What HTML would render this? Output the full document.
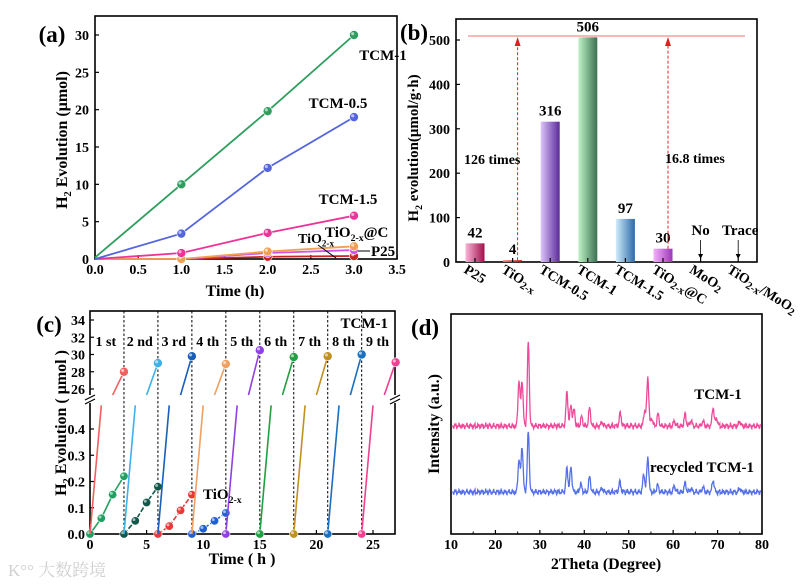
<!DOCTYPE html>
<html><head><meta charset="utf-8">
<style>
html,body{margin:0;padding:0;background:#fff;}
svg{display:block;font-family:"Liberation Serif","Noto Serif CJK SC",serif;font-weight:bold;}
</style></head>
<body>
<svg id="fig" width="807" height="585" viewBox="0 0 807 585"></svg>
<script>
// ---------- Panel (a) data ----------
const aTimes=[0,1,2,3];
const aNames=["TCM-1","TCM-0.5","TCM-1.5","TiO2-x@C","P25","TiO2-x"];
const aTCM1=[0.2,10,19.8,30];
const aTCM05=[0,3.4,12.2,19];
const aTCM15=[0,0.8,3.5,5.8];
const aTiC=[0,0,1.0,1.7];
const aP25=[0,0,0.8,1.2];
const aTiO=[0,0,0.3,0.4];
const aXTicks=["0.0","0.5","1.0","1.5","2.0","2.5","3.0","3.5"];
const aYTicks=[0,5,10,15,20,25,30];
// ---------- Panel (b) data ----------
const bCats=["P25","TiO2-x","TCM-0.5","TCM-1","TCM-1.5","TiO2-x@C","MoO2","TiO2-x/MoO2"];
const bVals=[42,4,316,506,97,30,0,0];
const bLabels=["42","4","316","506","97","30","No","Trace"];
const bYTicks=[0,100,200,300,400,500];
// ---------- Panel (c) data ----------
const cFinal=[28,29,29.8,28.9,30.5,29.7,29.8,30,29.1];
const cCycleLabels=["1 st","2 nd","3 rd","4 th","5 th","6 th","7 th","8 th","9 th"];
const cTiO1=[0,0.06,0.15,0.22];
const cTiO2=[0,0.05,0.12,0.18];
const cTiO3=[0,0.03,0.09,0.15];
const cTiO4=[0,0.02,0.05,0.08];
const cLowTicks=["0.0","0.1","0.2","0.3","0.4"];
const cUpTicks=[26,28,30,32,34];
const cXTicks=[0,5,10,15,20,25];
// ---------- Panel (d) data ----------
const dPinkPos=[25.3,26.0,27.4,36.1,37.0,37.7,39.4,41.2,44.0,48.1,53.6,54.3,55.2,56.6,60.3,62.7,64.0,66.7,69.0,69.8,75.0];
const dPinkH=[46,46,84,34,21,16,9,18,4,13,16,49,8,12,5,12,6,5,19,8,5];
const dBluePos=[25.3,26.0,27.4,36.1,37.0,39.2,41.2,44.0,48.0,53.4,54.3,56.5,60.3,62.7,64.0,66.7,69.0,75.0];
const dBlueH=[33,46,60,24,25,8,15,4,10,18,35,7,6,9,4,5,12,4];
const dXTicks=[10,20,30,40,50,60,70,80];

const NS="http://www.w3.org/2000/svg";
const svg=document.getElementById('fig');
function el(tag,attrs,parent,txt){const e=document.createElementNS(NS,tag);for(const k in attrs)e.setAttribute(k,attrs[k]);if(txt!==undefined)e.textContent=txt;(parent||svg).appendChild(e);return e;}
function grp(name){const g=el('g',{});return g;}
function txt(g,x,y,s,size,anchor,name,extra){const t=el('text',Object.assign({x:x,y:y,'font-size':size,'text-anchor':anchor||'middle',fill:'#000'},extra||{}),g,s);return t;}
function subText(g,x,y,base,sub,size,anchor,name,rot,post){
  const t=el('text',{x:x,y:y,'font-size':size,'text-anchor':anchor||'start',fill:'#000'},g);
  if(rot)t.setAttribute('transform',rot);
  
  el('tspan',{},t,base);el('tspan',{'font-size':size*0.65,dy:size*0.25},t,sub);
  if(post){el('tspan',{dy:-size*0.25},t,post);}
  return t;}
function ball(g,x,y,c,r,name){
  const b=el('circle',{cx:x,cy:y,r:r||4.5,fill:c,stroke:'#fff','stroke-width':0.6},g);
  
  el('circle',{cx:x-1.3,cy:y-1.3,r:(r||4.5)*0.35,fill:'#fff',opacity:0.6},g);
  return b;}

// ======== Panel (a) ========
(function(){
 const g=grp('panel-a');
 const L=95,R=397,T=16,B=259;
 const X=v=>L+v*(354-L)/3, Y=v=>B-v*(B-35)/30;
 el('rect',{x:L,y:T,width:R-L,height:B-T,fill:'none',stroke:'#000','stroke-width':1.6},g);
 aXTicks.forEach((s,i)=>{const x=X(i*0.5);el('line',{x1:x,x2:x,y1:B,y2:B-4,stroke:'#000','stroke-width':1.2},g);txt(g,x,B+15,s,14,'middle','x-tick-a');});
 aYTicks.forEach(v=>{const y=Y(v);el('line',{x1:L,x2:L+4,y1:y,y2:y,stroke:'#000','stroke-width':1.2},g);txt(g,L-6,y+5,String(v),14,'end','y-tick-a');});
 txt(g,235,296,'Time (h)',16,'middle','x-axis-title-a');
 subText(g,0,0,'H','2',16,'middle','y-axis-title-a','translate(67,140) rotate(-90)',' Evolution (μmol)');
 txt(g,52,42,'(a)',23,'middle','panel-label-a');
 const series=[[aTCM1,'#2e9e5e'],[aTCM05,'#5566dd'],[aTCM15,'#ee3399'],[aTiC,'#f0a050'],[aP25,'#cc55ee'],[aTiO,'#cc2222']];
 series.slice().reverse().forEach(([d,c],k)=>{
   const name=aNames[series.length-1-k];
   const nm=name.toLowerCase().replace(/[^a-z0-9]+/g,'-');
   const p=el('polyline',{points:d.map((v,i)=>X(aTimes[i])+','+Y(v)).join(' '),fill:'none',stroke:c,'stroke-width':1.8},g);
   
   d.forEach((v,i)=>{if(i>0)ball(g,X(aTimes[i]),Y(v),c,4.5,'point-'+nm);});
 });
 txt(g,383,60,'TCM-1',15,'middle','label-tcm1');
 txt(g,338,108,'TCM-0.5',15,'middle','label-tcm05');
 txt(g,348,204,'TCM-1.5',15,'middle','label-tcm15');
 subText(g,325,237,'TiO','2-x',15,'start','label-tio2x-c',null,'@C');
 subText(g,298,243,'TiO','2-x',14,'start','label-tio2x');
 el('line',{x1:318,y1:245,x2:336,y2:258,stroke:'#000','stroke-width':1},g);
 el('line',{x1:358,y1:251,x2:370,y2:251,stroke:'#000','stroke-width':1},g);
 txt(g,371,256,'P25',15,'start','label-p25');
})();

// ======== Panel (b) ========
(function(){
 const g=grp('panel-b');
 const L=456,R=757,T=19,B=262;
 const Y=v=>B-v*(B-40)/500, X=i=>475+i*37.6;
 const grads=[['#f9b4d8','#a0104a'],['#f08080','#b01010'],['#dcc4fa','#5a2a9a'],['#c0f4c8','#3a7050'],['#d0ecfb','#2a6aa8'],['#f4b0fa','#9a38b8']];
 const defs=el('defs',{},g);
 grads.forEach((c,i)=>{const lg=el('linearGradient',{id:'bg'+i,x1:0,x2:1,y1:0,y2:0},defs);el('stop',{offset:0,'stop-color':c[0]},lg);el('stop',{offset:1,'stop-color':c[1]},lg);});
 el('rect',{x:L,y:T,width:R-L,height:B-T,fill:'none',stroke:'#000','stroke-width':1.6},g);
 bYTicks.forEach(v=>{const y=Y(v);el('line',{x1:L,x2:L+4,y1:y,y2:y,stroke:'#000','stroke-width':1.2},g);txt(g,L-6,y+5,String(v),14,'end','y-tick-b');});
 bVals.forEach((v,i)=>{
   if(i<6){const r=el('rect',{x:X(i)-9.5,y:Y(v),width:19,height:B-Y(v),fill:'url(#bg'+i+')'},g);
     
     txt(g,X(i),Y(v)-6,bLabels[i],15,'middle','bar-value-label');}
   else{txt(g,X(i)+(i==7?2:0),Y(v)-27,bLabels[i],15,'middle','bar-value-label');
     el('line',{x1:X(i),x2:X(i),y1:Y(v)-22,y2:Y(v)-4,stroke:'#000','stroke-width':0.8},g);
     el('path',{d:`M${X(i)-2.5},${Y(v)-8} L${X(i)},${Y(v)-3} L${X(i)+2.5},${Y(v)-8}Z`,fill:'#000'},g);}
   el('line',{x1:X(i),x2:X(i),y1:B,y2:B-4,stroke:'#000','stroke-width':1.2},g);
 });
 bCats.forEach((c,i)=>{
   const rot=`translate(${X(i)-12},${B+10}) rotate(32)`;
   let t;
   if(c.startsWith('TiO2-x')){t=el('text',{x:0,y:0,'font-size':14,transform:rot,fill:'#000'},g);
     el('tspan',{},t,'TiO');el('tspan',{'font-size':11,dy:3},t,'2-x');
     if(c.length>6){el('tspan',{dy:-3},t,c.slice(6).replace('MoO2','MoO'));if(c.endsWith('MoO2'))el('tspan',{'font-size':11,dy:3},t,'2');}}
   else if(c==='MoO2'){t=el('text',{x:0,y:0,'font-size':14,transform:rot,fill:'#000'},g);el('tspan',{},t,'MoO');el('tspan',{'font-size':11,dy:3},t,'2');}
   else t=el('text',{x:0,y:0,'font-size':14,transform:rot,fill:'#000'},g,c);
   
 });
 el('line',{x1:468,x2:745,y1:36,y2:36,stroke:'#f07070','stroke-width':1},g);
 [[X(1)+5,Y(bVals[1])],[X(5)+5,Y(bVals[5])]].forEach(([x,y0])=>{
   el('line',{x1:x,x2:x,y1:y0,y2:43,stroke:'#e02020','stroke-width':1,'stroke-dasharray':'3,2'},g);
   el('path',{d:`M${x-3},${46} L${x},${37} L${x+3},${46}Z`,fill:'#e02020'},g);
 });
 txt(g,464,164,'126 times',14,'start','annotation-126-times');
 txt(g,665,163,'16.8 times',14,'start','annotation-16-8-times');
 subText(g,0,0,'H','2',15,'middle','y-axis-title-b','translate(418,148) rotate(-90)',' evolution(μmol/g·h)');
 txt(g,414,40,'(b)',23,'middle','panel-label-b');
})();

// ======== Panel (c) ========
(function(){
 const g=grp('panel-c');
 const L=90,R=395,T=311,B=534,BRK=399;
 const X=v=>L+v*(373-L)/25, YL=v=>B-v*(B-429)/0.4, YU=v=>389-(v-26)*(389-320)/8;
 el('rect',{x:L,y:T,width:R-L,height:B-T,fill:'none',stroke:'#000','stroke-width':1.6},g);
 el('rect',{x:L-6,y:BRK-4,width:12,height:8,fill:'#fff'},g);el('rect',{x:R-6,y:BRK-4,width:12,height:8,fill:'#fff'},g);
 [L,R].forEach(x=>{el('line',{x1:x-5,y1:BRK+1,x2:x+5,y2:BRK-4,stroke:'#000','stroke-width':1.2},g);el('line',{x1:x-5,y1:BRK+5,x2:x+5,y2:BRK,stroke:'#000','stroke-width':1.2},g);});
 cXTicks.forEach(v=>{const x=X(v);el('line',{x1:x,x2:x,y1:B,y2:B-4,stroke:'#000','stroke-width':1.2},g);txt(g,x,B+15,String(v),14,'middle','x-tick-c');});
 cLowTicks.forEach(s=>{const y=YL(+s);el('line',{x1:L,x2:L+4,y1:y,y2:y,stroke:'#000','stroke-width':1.2},g);txt(g,L-5,y+5,s,14,'end','y-tick-c-lower');});
 cUpTicks.forEach(v=>{const y=YU(v);el('line',{x1:L,x2:L+4,y1:y,y2:y,stroke:'#000','stroke-width':1.2},g);txt(g,L-5,y+5,String(v),14,'end','y-tick-c-upper');});
 for(let k=1;k<9;k++){const x=X(3*k);const d=el('line',{x1:x,x2:x,y1:T,y2:B,stroke:'#000','stroke-width':1,'stroke-dasharray':'2.5,2'},g);}
 const cols=['#f06060','#40b0e8','#1a5eb8','#f0a060','#9040e0','#20a040','#c09020','#1a70c0','#f04090'];
 const tcols=['#20a060','#11574a','#e83838','#2060d0'];
 [cTiO1,cTiO2,cTiO3,cTiO4].forEach((d,k)=>{
   const p=el('polyline',{points:d.map((v,i)=>X(3*k+i)+','+YL(v)).join(' '),fill:'none',stroke:tcols[k],'stroke-width':1.6,'stroke-dasharray':k?'5,2':'none'},g);
   
   d.forEach((v,i)=>ball(g,X(3*k+i),YL(v),tcols[k],4.2,'tio2x-point'));
 });
 cFinal.forEach((f,k)=>{
   const s=3*k,c=cols[k];
   const lo=el('line',{x1:X(s),y1:YL(0),x2:X(s+1),y2:YL(0.49),stroke:c,'stroke-width':1.6},g);
   const ex=Math.min(s+3,27);
   const up=el('line',{x1:X(s+2),y1:YU(25.3),x2:X(ex),y2:YU(25.3+(f-25.3)*(ex-s-2)),stroke:c,'stroke-width':1.6},g);
   if(k>=4)ball(g,X(s),YL(0),c,4.2,'tcm1-start-point');
   ball(g,X(s+3),YU(f),c,4.5,'tcm1-end-point');
   txt(g,X(s+1.4),346,cCycleLabels[k],14,'middle','cycle-label');
 });
 txt(g,388,328,'TCM-1',15,'end','label-tcm1-c');
 subText(g,203,499,'TiO','2-x',15,'start','label-tio2x-c');
 txt(g,242,564,'Time ( h )',16,'middle','x-axis-title-c');
 subText(g,0,0,'H','2',16,'middle','y-axis-title-c','translate(66,423) rotate(-90)',' Evolution ( μmol )');
 txt(g,49,332,'(c)',23,'middle','panel-label-c');
 txt(g,8,576,'K°° 大数跨境',17,'start','watermark',{fill:'#d0d0d0','font-weight':'normal'});
})();

// ======== Panel (d) ========
(function(){
 const g=grp('panel-d');
 const L=451,R=762,T=314,B=534;
 const X=v=>L+(v-10)*(R-L)/70;
 el('rect',{x:L,y:T,width:R-L,height:B-T,fill:'none',stroke:'#000','stroke-width':1.6},g);
 dXTicks.forEach(v=>{const x=X(v);el('line',{x1:x,x2:x,y1:B,y2:B-4,stroke:'#000','stroke-width':1.2},g);txt(g,x,B+15,String(v),14,'middle','x-tick-d');
   if(v<80){const xm=X(v+5);el('line',{x1:xm,x2:xm,y1:B,y2:B-2.5,stroke:'#000','stroke-width':1},g);}});
 function pattern(pos,h,base,c,name){
   const pts=[];
   for(let t=10.3;t<=79.7;t+=0.1){
     let y=base+1.6*Math.sin(t*7.3)+1.2*Math.sin(t*17.9)+0.8*Math.sin(t*31.7);
     pos.forEach((p,i)=>{const w=0.22;y-=h[i]*Math.exp(-((t-p)*(t-p))/(2*w*w));});
     pts.push(X(t).toFixed(1)+','+y.toFixed(1));}
   const p=el('polyline',{points:pts.join(' '),fill:'none',stroke:c,'stroke-width':1.3},g);
   }
 pattern(dPinkPos,dPinkH,426,'#ee4a9a','xrd-tcm1');
 pattern(dBluePos,dBlueH,492,'#5570e8','xrd-recycled-tcm1');
 txt(g,718,399,'TCM-1',15,'middle','label-xrd-tcm1');
 txt(g,650,472,'recycled TCM-1',15,'start','label-xrd-recycled');
 txt(g,606,569,'2Theta (Degree)',16,'middle','x-axis-title-d');
 txt(g,0,0,'Intensity (a.u.)',16,'middle','y-axis-title-d',{transform:'translate(439,424) rotate(-90)'});
 txt(g,425,335,'(d)',23,'middle','panel-label-d');
})();
</script>
</body></html>
